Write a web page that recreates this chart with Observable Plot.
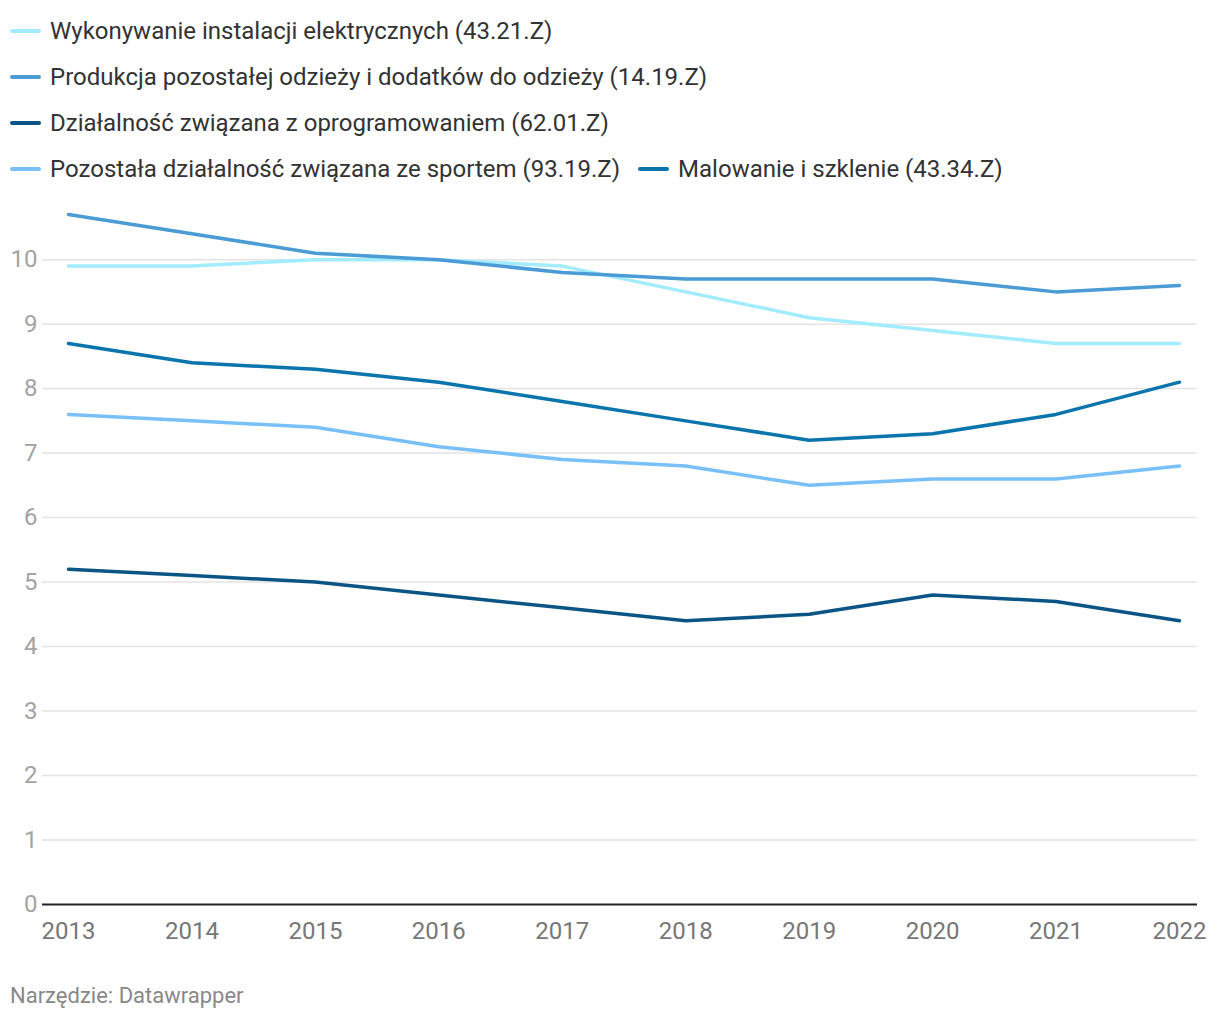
<!DOCTYPE html>
<html><head><meta charset="utf-8">
<script src="https://cdn.jsdelivr.net/npm/d3@7"></script>
<script src="https://cdn.jsdelivr.net/npm/@observablehq/plot@0.6"></script>
<style>
body{margin:0;background:#fff;font-family:Roboto,"Noto Sans",sans-serif;width:1220px;height:1020px;position:relative;overflow:hidden;}
#legend{position:absolute;left:10px;top:8px;width:1200px;display:flex;flex-wrap:wrap;}
.item{display:flex;align-items:center;height:46px;margin-right:18px;font-size:24px;color:#333;white-space:nowrap;}
.sw{width:31px;height:4px;border-radius:2px;margin-right:9px;}
#chart{position:absolute;left:0;top:190px;}
#foot{position:absolute;left:10px;top:983px;font-size:22px;color:#888;}
</style></head>
<body>
<div id="legend"></div>
<div id="chart"></div>
<div id="foot">Narzędzie: Datawrapper</div>
<script>
const years = [2013, 2014, 2015, 2016, 2017, 2018, 2019, 2020, 2021, 2022];
const seriesNames = [
  "Wykonywanie instalacji elektrycznych (43.21.Z)",
  "Produkcja pozostałej odzieży i dodatków do odzieży (14.19.Z)",
  "Działalność związana z oprogramowaniem (62.01.Z)",
  "Pozostała działalność związana ze sportem (93.19.Z)",
  "Malowanie i szklenie (43.34.Z)"
];
const seriesColors = ["#a3ecfd", "#4a9bd6", "#0b5586", "#78c0f7", "#0a74ad"];
const wykonywanie = [9.9, 9.9, 10.0, 10.0, 9.9, 9.5, 9.1, 8.9, 8.7, 8.7];
const produkcja   = [10.7, 10.4, 10.1, 10.0, 9.8, 9.7, 9.7, 9.7, 9.5, 9.6];
const oprogramowanie = [5.2, 5.1, 5.0, 4.8, 4.6, 4.4, 4.5, 4.8, 4.7, 4.4];
const sport       = [7.6, 7.5, 7.4, 7.1, 6.9, 6.8, 6.5, 6.6, 6.6, 6.8];
const malowanie   = [8.7, 8.4, 8.3, 8.1, 7.8, 7.5, 7.2, 7.3, 7.6, 8.1];
const yTicks = [0, 1, 2, 3, 4, 5, 6, 7, 8, 9, 10];

const allValues = [wykonywanie, produkcja, oprogramowanie, sport, malowanie];
const data = [];
allValues.forEach((vals, i) => vals.forEach((v, j) => data.push({year: years[j], value: v, series: seriesNames[i]})));

// legend
const leg = document.getElementById("legend");
seriesNames.forEach((n, i) => {
  const it = document.createElement("div"); it.className = "item";
  const sw = document.createElement("div"); sw.className = "sw"; sw.style.background = seriesColors[i];
  const t = document.createElement("span"); t.textContent = n;
  it.appendChild(sw); it.appendChild(t); leg.appendChild(it);
});

const chart = Plot.plot({
  width: 1220,
  height: 770,
  marginTop: 24,
  marginBottom: 56,
  marginLeft: 68,
  marginRight: 41,
  style: {fontFamily: "Roboto, sans-serif", fontSize: "24px", background: "transparent"},
  x: {type: "linear", domain: [2013, 2022], ticks: years, tickFormat: d => String(d)},
  y: {domain: [0, 10.7], ticks: yTicks},
  color: {domain: seriesNames, range: seriesColors},
  marks: [
    Plot.ruleY(yTicks.filter(d => d > 0), {stroke: "#e3e3e3", strokeWidth: 1.5, insetLeft: -26, insetRight: -18}),
    Plot.axisY({ticks: yTicks, tickSize: 0, tickPadding: 31, label: null, fill: "#a3a3a3", fontSize: 24}),
    Plot.axisX({ticks: years, tickSize: 0, tickPadding: 17, label: null, fill: "#777", fontSize: 24, tickFormat: d => String(d)}),
    Plot.line(data, {x: "year", y: "value", z: "series", stroke: "series", strokeWidth: 3.5, curve: "linear"}),
    Plot.ruleY([0], {stroke: "#222", strokeWidth: 2, insetLeft: -26, insetRight: -18})
  ]
});
document.getElementById("chart").appendChild(chart);
</script>
</body></html>
